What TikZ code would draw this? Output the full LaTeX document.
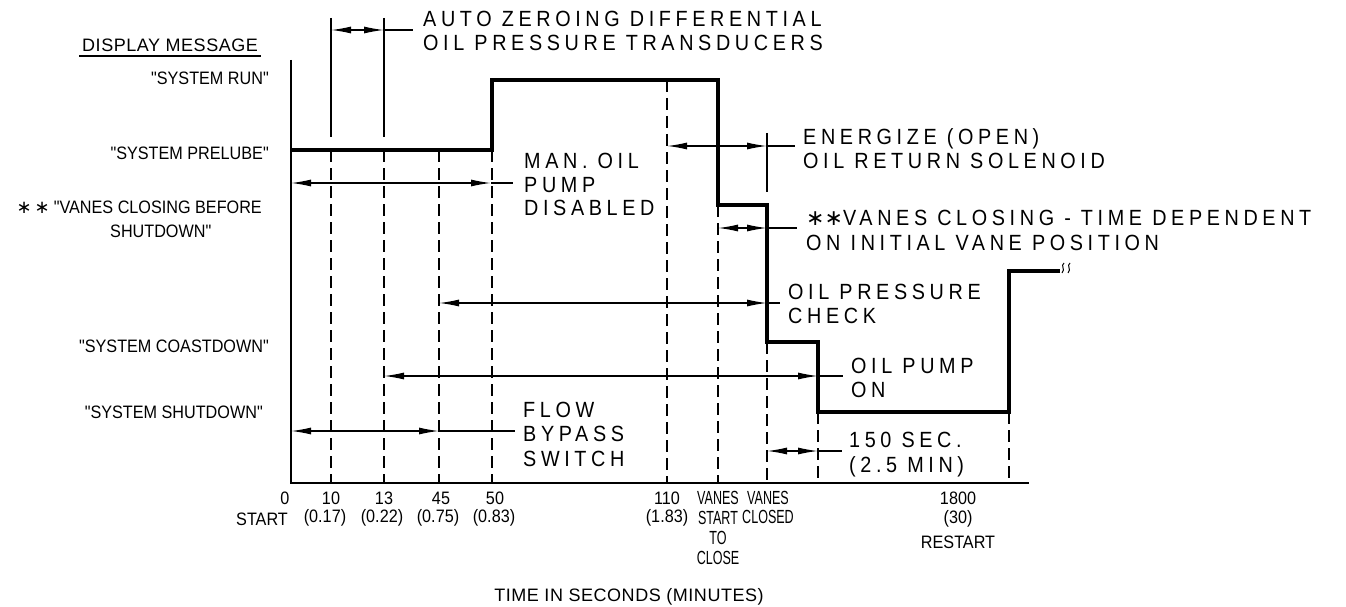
\documentclass[tikz,border=0pt]{standalone}
\usepackage{fontspec}
\setmainfont{Liberation Sans}
\newfontfamily\bigfont[LetterSpace=21,FakeStretch=0.9]{Liberation Sans}
\newfontfamily\labfont[FakeStretch=0.9]{Liberation Sans}
\newfontfamily\widefont[LetterSpace=3]{Liberation Sans}
\newfontfamily\condfont[FakeStretch=0.66]{Liberation Sans}
\newfontfamily\astfont{DejaVu Sans}
\newcommand\myast{{\astfont ∗}}
\usetikzlibrary{arrows.meta}
\begin{document}
\begin{tikzpicture}[x=1pt,y=-1pt,
  big/.style={font=\bigfont\fontsize{22}{24}\selectfont, inner sep=0pt, anchor=base west},
  lab/.style={font=\labfont\fontsize{18}{20}\selectfont, inner sep=0pt},
  wide/.style={font=\widefont\fontsize{18}{20}\selectfont, inner sep=0pt},
  cnd/.style={font=\condfont\fontsize{19}{20}\selectfont, inner sep=0pt, anchor=base},
  thinline/.style={line width=1.3pt},
  axisline/.style={line width=1.8pt},
  trace/.style={line width=3.6pt, line join=miter},
  gridline/.style={line width=1.3pt, dash pattern=on 12pt off 6pt},
  dimline/.style={line width=1.3pt, {Latex[length=20pt,width=7pt]}-{Latex[length=20pt,width=7pt]}},
]
\useasboundingbox (0,0) rectangle (1346,607);

% axes
\coordinate (ytop) at (291,60);
\coordinate (origin) at (291,483);
\coordinate (xend) at (1029,483);
\draw[axisline] (ytop) -- (origin) -- (xend);

% trace
\draw[trace] (291,150) -- (492,150) -- (492,80) -- (718,80) -- (718,205)
  -- (767,205) -- (767,342) -- (818,342) -- (818,412) -- (1009,412)
  -- (1009,271) -- (1060,271);
% break mark
\draw[line width=1pt] (1064,263) .. controls (1060,266) and (1066,269) .. (1062,273);
\draw[line width=1pt] (1070,263) .. controls (1066,266) and (1072,269) .. (1068,273);

% dashed time lines
\foreach \n/\x/\y in {a/331/150, b/384/150, c/439/150, d/492/150, e/667/80,
                       f/718/205, g/767/342, h/818/412, i/1009/412}{
  \coordinate (g\n t) at (\x,\y);
  \coordinate (g\n b) at (\x,483);
  \draw[gridline] (g\n t) -- (g\n b);
}

% solid extension ticks
\coordinate (t10a) at (331,18);  \coordinate (t10b) at (331,137);
\coordinate (t13a) at (384,18);  \coordinate (t13b) at (384,137);
\coordinate (tena) at (767,133); \coordinate (tenb) at (767,192);
\draw[thinline] (t10a) -- (t10b);
\draw[thinline] (t13a) -- (t13b);
\draw[thinline] (tena) -- (tenb);

% dimension arrows: left, right, leader end
\foreach \n/\xl/\xr/\xe/\y in {az/331/384/413/30, en/667/767/795/146,
    mo/291/491/513/183, vc/718/767/797/228, op/439/767/780/303,
    pu/384/818/843/376, fb/291/439/515/431, ts/767/818/842/451}{
  \coordinate (\n L) at (\xl,\y);
  \coordinate (\n R) at (\xr,\y);
  \coordinate (\n E) at (\xe,\y);
  \draw[dimline] (\n L) -- (\n R);
  \draw[thinline] (\n R) -- (\n E);
}

% right-side labels
\node[big] (az1) at (423,27) {AUTO ZEROING DIFFERENTIAL};
\node[big] (az2) at (423,51) {OIL PRESSURE TRANSDUCERS};
\node[big] (en1) at (803,145) {ENERGIZE (OPEN)};
\node[big] (en2) at (803,168) {OIL RETURN SOLENOID};
\node[big] (mo1) at (524,168) {MAN. OIL};
\node[big] (mo2) at (524,192) {PUMP};
\node[big] (mo3) at (524,215) {DISABLED};
\node[big] (vc1) at (806,225) {\myast\myast VANES CLOSING - TIME DEPENDENT};
\node[big] (vc2) at (806,250) {ON INITIAL VANE POSITION};
\node[big] (op1) at (788,299) {OIL PRESSURE};
\node[big] (op2) at (788,323) {CHECK};
\node[big] (pu1) at (851,373) {OIL PUMP};
\node[big] (pu2) at (851,397) {ON};
\node[big] (fb1) at (523,417) {FLOW};
\node[big] (fb2) at (523,441) {BYPASS};
\node[big] (fb3) at (523,466) {SWITCH};
\node[big] (ts1) at (849,447) {150 SEC.};
\node[big] (ts2) at (849,472) {(2.5 MIN)};

% left labels
\node[wide, anchor=base west] (dm) at (82,52) {DISPLAY MESSAGE};
\coordinate (ulA) at (79,56); \coordinate (ulB) at (261,56);
\draw[thinline] (ulA) -- (ulB);
\node[lab, anchor=base east] (l1) at (269,85) {"SYSTEM RUN"};
\node[lab, anchor=base east] (l2) at (269,160) {"SYSTEM PRELUBE"};
\node[lab, anchor=base east] (l3) at (262,213) {\myast\hspace{3pt}\myast\hspace{4pt}"VANES CLOSING BEFORE};
\node[lab, anchor=base west] (l3b) at (110,237) {SHUTDOWN"};
\node[lab, anchor=base east] (l4) at (269,352) {"SYSTEM COASTDOWN"};
\node[lab, anchor=base east] (l5) at (263,418) {"SYSTEM SHUTDOWN"};

% time labels
\node[lab, anchor=base] (x0) at (285,504) {0};
\node[lab, anchor=base east] (xs) at (288,525) {START};
\node[lab, anchor=base] (x10) at (331,504) {10};
\node[lab, anchor=base] (x10m) at (325,522) {(0.17)};
\node[lab, anchor=base] (x13) at (384,504) {13};
\node[lab, anchor=base] (x13m) at (382,522) {(0.22)};
\node[lab, anchor=base] (x45) at (441,504) {45};
\node[lab, anchor=base] (x45m) at (438,522) {(0.75)};
\node[lab, anchor=base] (x50) at (495,504) {50};
\node[lab, anchor=base] (x50m) at (494,522) {(0.83)};
\node[lab, anchor=base] (x110) at (667,504) {110};
\node[lab, anchor=base] (x110m) at (667,522) {(1.83)};
\node[cnd] (vs1) at (718,504) {VANES};
\node[cnd] (vs2) at (718,524) {START};
\node[cnd] (vs3) at (718,544) {TO};
\node[cnd] (vs4) at (718,564) {CLOSE};
\node[cnd] (vcl1) at (768,504) {VANES};
\node[cnd] (vcl2) at (768,523) {CLOSED};
\node[lab, anchor=base] (x1800) at (958,504) {1800};
\node[lab, anchor=base] (x1800m) at (958,523) {(30)};
\node[lab, anchor=base] (xr) at (958,548) {RESTART};
\node[wide, anchor=base] (xt) at (629,601) {TIME IN SECONDS (MINUTES)};
\end{tikzpicture}
\end{document}
